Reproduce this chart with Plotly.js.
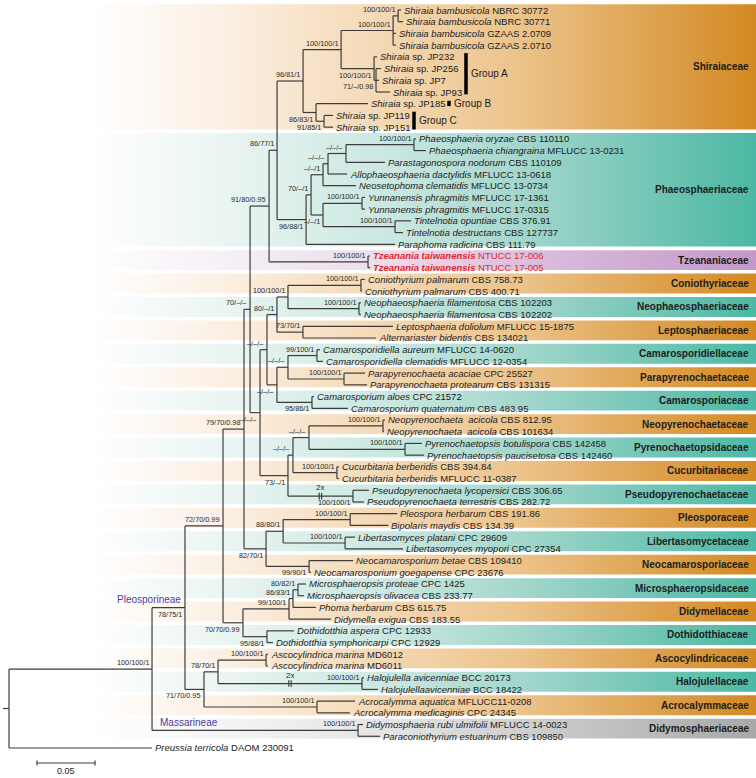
<!DOCTYPE html>
<html>
<head>
<meta charset="utf-8">
<script src="https://cdn.plot.ly/plotly-3.0.1.min.js"></script>
<style>
  body { margin: 0; background: #fff; }
  #tree { width: 756px; height: 778px; }
</style>
</head>
<body>
<div id="tree"></div>
<script>
// taxa in tree order, top to bottom (italic name + strain / voucher)
const taxonNames = [
  'Shiraia bambusicola', 'Shiraia bambusicola', 'Shiraia bambusicola', 'Shiraia bambusicola',
  'Shiraia', 'Shiraia', 'Shiraia', 'Shiraia', 'Shiraia', 'Shiraia', 'Shiraia',
  'Phaeosphaeria oryzae', 'Phaeosphaeria chiangraina', 'Parastagonospora nodorum',
  'Allophaeosphaeria dactylidis', 'Neosetophoma clematidis', 'Yunnanensis phragmitis',
  'Yunnanensis phragmitis', 'Tintelnotia opuntiae', 'Tintelnotia destructans', 'Paraphoma radicina',
  'Tzeanania taiwanensis', 'Tzeanania taiwanensis',
  'Coniothyrium palmarum', 'Coniothyrium palmarum',
  'Neophaeosphaeria filamentosa', 'Neophaeosphaeria filamentosa',
  'Leptosphaeria doliolum', 'Alternariaster bidentis',
  'Camarosporidiella aureum', 'Camarosporidiella clematidis',
  'Parapyrenochaeta acaciae', 'Parapyrenochaeta protearum',
  'Camarosporium aloes', 'Camarosporium quaternatum',
  'Neopyrenochaeta\u00a0 acicola', 'Neopyrenochaeta\u00a0 acicola',
  'Pyrenochaetopsis botulispora', 'Pyrenochaetopsis paucisetosa',
  'Cucurbitaria berberidis', 'Cucurbitaria berberidis',
  'Pseudopyrenochaeta lycopersici', 'Pseudopyrenochaeta terrestris',
  'Pleospora herbarum', 'Bipolaris maydis',
  'Libertasomyces platani', 'Libertasomyces myopori',
  'Neocamarosporium betae', 'Neocamarosporium goegapense',
  'Microsphaeropsis proteae', 'Microsphaeropsis olivacea',
  'Phoma herbarum', 'Didymella exigua',
  'Dothidotthia aspera', 'Dothidotthia symphoricarpi',
  'Ascocylindrica marina', 'Ascocylindrica marina',
  'Halojulella avicenniae', 'Halojulellaavicenniae',
  'Acrocalymma aquatica', 'Acrocalymma medicaginis',
  'Didymosphaeria rubi ulmifolii', 'Paraconiothyrium estuarinum',
  'Preussia terricola'
];
const strainCodes = [
  'NBRC 30772', 'NBRC 30771', 'GZAAS 2.0709', 'GZAAS 2.0710',
  'sp. JP232', 'sp. JP256', 'sp. JP7', 'sp. JP93', 'sp. JP185', 'sp. JP119', 'sp. JP151',
  'CBS 110110', 'MFLUCC 13-0231', 'CBS 110109', 'MFLUCC 13-0618', 'MFLUCC 13-0734',
  'MFLUCC 17-1361', 'MFLUCC 17-0315', 'CBS 376.91', 'CBS 127737', 'CBS 111.79',
  'NTUCC 17-006', 'NTUCC 17-005',
  'CBS 758.73', 'CBS 400.71', 'CBS 102203', 'CBS 102202', 'MFLUCC 15-1875', 'CBS 134021',
  'MFLUCC 14-0620', 'MFLUCC 12-0354', 'CPC 25527', 'CBS 131315', 'CPC 21572', 'CBS 483.95',
  'CBS 812.95', 'CBS 101634', 'CBS 142458', 'CBS 142460', 'CBS 394.84', 'MFLUCC 11-0387',
  'CBS 306.65', 'CBS 282.72', 'CBS 191.86', 'CBS 134.39', 'CPC 29609', 'CPC 27354',
  'CBS 109410', 'CPC 23676', 'CPC 1425', 'CBS 233.77', 'CBS 615.75', 'CBS 183.55',
  'CPC 12933', 'CPC 12929', 'MD6012', 'MD6011', 'BCC 20173', 'BCC 18422',
  'MFLUCC11-0208', 'CPC 24345', 'MFLUCC 14-0023', 'CBS 109850', 'DAOM 230091'
];
const newTaxa = [21, 22];

// tree: leaves are row indices, internal labels are ML/MP/PP support
const cladeShiraia = "((((0:0.0026,1:0.0043)100/100/1:0.0043,2:0.0026,3:0.0026)100/100/1:0.0448," +
  "(4:0.0026,(5:0.0043,6:0.0026,7:0.0121)71/–/0.98:0.0017)100/100/1:0.0284)100/100/1:0.0328," +
  "(8:0.0448,(9:0.0078,10:0.0078)91/85/1:0.0069)86/83/1:0.0112)96/81/1";
const cladePhaeo = "((((((11:0.0017,12:0.0103)100/100/1:0.0586,13:0.0336)–/–/–:0.0155,14:0.0164)–/–/–:0.0043," +
  "15:0.0284)–/–/1:0.0103,((16:0.0026,17:0.0026)100/100/1:0.0336,(18:0.0138,19:0.0069)100/100/1:0.0621)–/–/1:0.0103)" +
  "70/–/1:0.0043,20:0.0767)96/88/1";
const cladeUpper = "((" + cladeShiraia + ":0.0224," + cladePhaeo + ":0.0250)86/77/1:0.0069," +
  "(21:0.0017,22:0.0017)100/100/1:0.0853)91/80/0.95";
const cladeConio = "((((23:0.0034,24:0.0009)100/100/1:0.0629,(25:0.0017,26:0.0017)100/100/1:0.0612)100/100/1:0.0095," +
  "(27:0.0776,28:0.0629)73/70/1:0.0224)80/–/1:0.0086,(((29:0.0026,30:0.0052)99/100/1:0.0250," +
  "(31:0.0181,32:0.0198)100/100/1:0.0483)–/–/–:0.0095,(33:0.0017,34:0.0310)95/86/1:0.0302)–/–/–:0.0086)–/–/–";
const cladeCucur = "((((35:0.0017,36:0.0009)100/100/1:0.0638,(37:0.0147,38:0.0164)100/100/1:0.0828)–/–/–:0.0138," +
  "(39:0.0017,40:0.0017)100/100/1:0.0379)–/–/–:0.0043,(41:0.0138,42:0.0095)100/100/1:0.0560)73/–/1";
const cladeMid = "(" + cladeUpper + ":0.0164,(" + cladeConio + ":0.0060," + cladeCucur + ":0.0241)–/–/–:0.0086)70/–/–";
const cladePleo = "(((43:0.0405,44:0.0328)100/100/1:0.0578,(45:0.0086,46:0.0500)100/100/1:0.0534)88/80/1:0.0147," +
  "(47:0.0379,48:0.0017)99/90/1:0.0371)82/70/1";
const cladeDidym = "((((49:0.0069,50:0.0052)80/82/1:0.0043,51:0.0198)86/83/1:0.0034,52:0.0362)99/100/1:0.0397," +
  "(53:0.0233,54:0.0052)95/88/1:0.0207)70/70/0.99";
const cladeAcro = "(((55:0.0017,56:0.0017)100/100/1:0.0414,(57:0.0017,58:0.0138)100/100/1:0.1241)78/70/1:0.0121," +
  "(59:0.0328,60:0.0284)100/100/1:0.0974)71/70/0.95";
const treeNewick = "(((((" + cladeMid + ":0.0052," + cladePleo + ":0.0190)79/70/0.98:0.0181," +
  cladeDidym + ":0.0172)72/70/0.99:0.0328," + cladeAcro + ":0.0164)78/75/1:0.0284," +
  "(61:0.0043,62:0.0190)100/100/1:0.1776)100/100/1:0.1233,63:0.1233);";

// clades (first-last row) whose support sits under the branch
const labelsBelow = ['4-7', '5-7', '8-10', '9-10', '11-20', '16-19', '23-42', '29-34', '33-34', '35-42',
  '41-42', '43-48', '47-48', '49-54', '53-54', '0-60', '55-60'];
// branches drawn shortened (2x)
const brokenBranches = ['57-58', '41-42'];

const familyNames = ['Shiraiaceae', 'Phaeosphaeriaceae', 'Tzeananiaceae', 'Coniothyriaceae',
  'Neophaeosphaeriaceae', 'Leptosphaeriaceae', 'Camarosporidiellaceae', 'Parapyrenochaetaceae',
  'Camarosporiaceae', 'Neopyrenochaetaceae', 'Pyrenochaetopsidaceae', 'Cucurbitariaceae',
  'Pseudopyrenochaetaceae', 'Pleosporaceae', 'Libertasomycetaceae', 'Neocamarosporiaceae',
  'Microsphaeropsidaceae', 'Didymellaceae', 'Dothidotthiaceae', 'Ascocylindricaceae',
  'Halojulellaceae', 'Acrocalymmaceae', 'Didymosphaeriaceae'];
const familyFirst = [0, 11, 21, 23, 25, 27, 29, 31, 33, 35, 37, 39, 41, 43, 45, 47, 49, 51, 53, 55, 57, 59, 61];
const familyLast = [10, 20, 22, 24, 26, 28, 30, 32, 34, 36, 38, 40, 42, 44, 46, 48, 50, 52, 54, 56, 58, 60, 62];

const groupNames = ['Group A', 'Group B', 'Group C'];
const groupFirst = [4, 8, 9];
const groupLast = [7, 8, 10];

const subordNames = ['Pleosporineae', 'Massarineae'];
const subordClades = ['0-60', '61-62'];

// ---- geometry / style ----
const PX = 1160;            // px per substitution unit (0.05 = 58 px)
const ROW = 11.714;         // px per row
const W = 756, H = 778;
const px = p => p / PX;
const xRange = [-px(9), px(W - 9)];
const yRange = [(H - 10) / ROW, -10 / ROW];
const FONT = 'Liberation Sans, Arial, sans-serif';
const INK = '#1c1c1c';

const tints = {
  orange: [[0, '#ffffff'], [0.22, '#fbeee0'], [0.46, '#f3d6af'], [0.64, '#ecc48c'], [1, '#d38922']],
  teal: [[0, '#ffffff'], [0.22, '#e8f4f1'], [0.46, '#c8e7e0'], [0.64, '#a5d7cd'], [1, '#4cb8a3']],
  purple: [[0, '#ffffff'], [0.22, '#f5eef6'], [0.46, '#e9dbeb'], [0.64, '#dcc0df'], [1, '#c498c8']],
  grey: [[0, '#ffffff'], [0.22, '#f3f3f3'], [0.46, '#e3e3e3'], [0.64, '#d0d0d0'], [1, '#a8a8a8']]
};
const specialTint = { Tzeananiaceae: 'purple', Didymosphaeriaceae: 'grey' };

function parseNewick(str) {
  let i = 0;
  function readNode() {
    const node = { children: [] };
    if (str[i] === '(') {
      i++;
      node.children.push(readNode());
      while (str[i] === ',') { i++; node.children.push(readNode()); }
      i++; // ')'
    }
    let start = i;
    while (i < str.length && ':,);'.indexOf(str[i]) < 0) i++;
    node.label = str.slice(start, i);
    node.len = 0;
    if (str[i] === ':') {
      i++;
      start = i;
      while (i < str.length && ',);'.indexOf(str[i]) < 0) i++;
      node.len = parseFloat(str.slice(start, i));
    }
    return node;
  }
  return readNode();
}

const root = parseNewick(treeNewick);
const allNodes = [];
function place(node, parentX) {
  node.px = parentX;
  node.x = parentX + node.len;
  if (!node.children.length) {
    node.first = node.last = parseInt(node.label);
    node.y = node.first;
  } else {
    node.children.forEach(c => place(c, node.x));
    const a = node.children[0], b = node.children[node.children.length - 1];
    node.y = (a.y + b.y) / 2;
    node.first = a.first;
    node.last = b.last;
  }
  node.key = node.first + '-' + node.last;
  allNodes.push(node);
}
place(root, 0);
const byKey = {};
allNodes.forEach(n => { if (!byKey[n.key] || n.children.length) byKey[n.key] = n; });
const leafOf = {};
allNodes.filter(n => !n.children.length).forEach(n => { leafOf[n.first] = n; });

const traces = [];
const annotations = [];

// family bands
let alt = 0;
familyNames.forEach((name, k) => {
  let tint = specialTint[name];
  if (!tint) { tint = alt % 2 === 0 ? 'orange' : 'teal'; alt++; }
  const y0 = familyFirst[k] - 0.5, y1 = familyLast[k] + 0.2;
  const x0 = px(90 - 9), x1 = xRange[1];
  traces.push({
    type: 'scatter', mode: 'lines', x: [x0, x1, x1, x0, x0], y: [y0, y0, y1, y1, y0],
    fill: 'toself', line: { width: 0 }, hoverinfo: 'skip',
    fillgradient: { type: 'horizontal', colorscale: tints[tint] }
  });
  annotations.push({
    x: x1, y: (y0 + y1) / 2, xanchor: 'right', yanchor: 'middle', xshift: -5, showarrow: false,
    text: '<b>' + name + '</b>', font: { family: FONT, size: 10, color: INK }
  });
});

// branches
const bx = [], by = [];
allNodes.forEach(n => {
  if (n !== root) { bx.push(n.px, n.x, null); by.push(n.y, n.y, null); }
  if (n.children.length) {
    bx.push(n.x, n.x, null);
    by.push(n.children[0].y, n.children[n.children.length - 1].y, null);
  }
});
bx.push(-px(6), 0, null); by.push(root.y, root.y, null);
traces.push({ type: 'scatter', mode: 'lines', x: bx, y: by, hoverinfo: 'skip',
  line: { color: '#3d3d3d', width: 1.2 } });

// broken branch marks
const kx = [], ky = [];
brokenBranches.forEach(key => {
  const n = byKey[key];
  const xm = (n.px + n.x) / 2;
  [-1.2, 1.2].forEach(d => { kx.push(xm + px(d), xm + px(d), null); ky.push(n.y - 0.28, n.y + 0.28, null); });
  annotations.push({ x: xm, y: n.y, yanchor: 'bottom', yshift: 2, showarrow: false, text: '2x',
    font: { family: FONT, size: 8, color: INK } });
});
traces.push({ type: 'scatter', mode: 'lines', x: kx, y: ky, hoverinfo: 'skip',
  line: { color: '#3d3d3d', width: 1.2 } });

// support values
allNodes.filter(n => n.children.length && n.label).forEach(n => {
  const below = labelsBelow.indexOf(n.key) >= 0;
  annotations.push({
    x: n.x, y: n.y, xanchor: 'right', yanchor: below ? 'top' : 'bottom', xshift: -1,
    showarrow: false, text: n.label,
    font: { family: FONT, size: 7.3, color: '#2a2a2a' }
  });
});

// taxon labels
taxonNames.forEach((name, i) => {
  const leaf = leafOf[i];
  const isNew = newTaxa.indexOf(i) >= 0;
  const txt = isNew ? '<b><i>' + name + '</i></b> ' + strainCodes[i] : '<i>' + name + '</i> ' + strainCodes[i];
  annotations.push({
    x: leaf.x, y: leaf.y, xanchor: 'left', yanchor: 'middle', xshift: 1, showarrow: false, text: txt,
    font: { family: FONT, size: 9.5, color: isNew ? '#e3262d' : INK }
  });
});

// Shiraia groups
const groupBarX = [px(466 - 9), px(449 - 9), px(414 - 9)];
const gx = [], gy = [];
groupNames.forEach((g, k) => {
  const y0 = groupFirst[k] - (k === 1 ? 0.25 : 0.32), y1 = groupLast[k] + 0.2;
  gx.push(groupBarX[k], groupBarX[k], null); gy.push(y0, y1, null);
  annotations.push({ x: groupBarX[k], y: (y0 + y1) / 2, xanchor: 'left', yanchor: 'middle', xshift: 3,
    showarrow: false, text: g, font: { family: FONT, size: 10, color: INK } });
});
traces.push({ type: 'scatter', mode: 'lines', x: gx, y: gy, hoverinfo: 'skip',
  line: { color: '#000', width: 3.5 } });

// suborders
const ple = byKey[subordClades[0]], mas = byKey[subordClades[1]];
annotations.push({ x: ple.x, y: ple.y, xanchor: 'right', yanchor: 'bottom', xshift: -2, yshift: 1,
  showarrow: false, text: subordNames[0], font: { family: FONT, size: 10, color: '#4b3d98' } });
annotations.push({ x: root.children[0].x, y: mas.y, xanchor: 'left', yanchor: 'bottom', xshift: 6,
  showarrow: false, text: subordNames[1], font: { family: FONT, size: 10, color: '#4b3d98' } });

// scale bar
const sbX = px(37 - 9), sbY = (763 - 10) / ROW;
traces.push({ type: 'scatter', mode: 'lines', hoverinfo: 'skip', line: { color: '#3d3d3d', width: 1.2 },
  x: [sbX, sbX + 0.05, null, sbX, sbX, null, sbX + 0.05, sbX + 0.05],
  y: [sbY, sbY, null, sbY - 0.22, sbY + 0.22, null, sbY - 0.22, sbY + 0.22] });
annotations.push({ x: sbX + 0.025, y: sbY, yanchor: 'top', yshift: -1, showarrow: false, text: '0.05',
  font: { family: FONT, size: 9, color: INK } });

const layout = {
  width: W, height: H,
  margin: { l: 0, r: 0, t: 0, b: 0 },
  paper_bgcolor: '#fff', plot_bgcolor: '#fff',
  showlegend: false,
  xaxis: { range: xRange, visible: false, fixedrange: true },
  yaxis: { range: yRange, visible: false, fixedrange: true },
  annotations: annotations
};

Plotly.newPlot('tree', traces, layout, { staticPlot: true, displayModeBar: false });
</script>
</body>
</html>
